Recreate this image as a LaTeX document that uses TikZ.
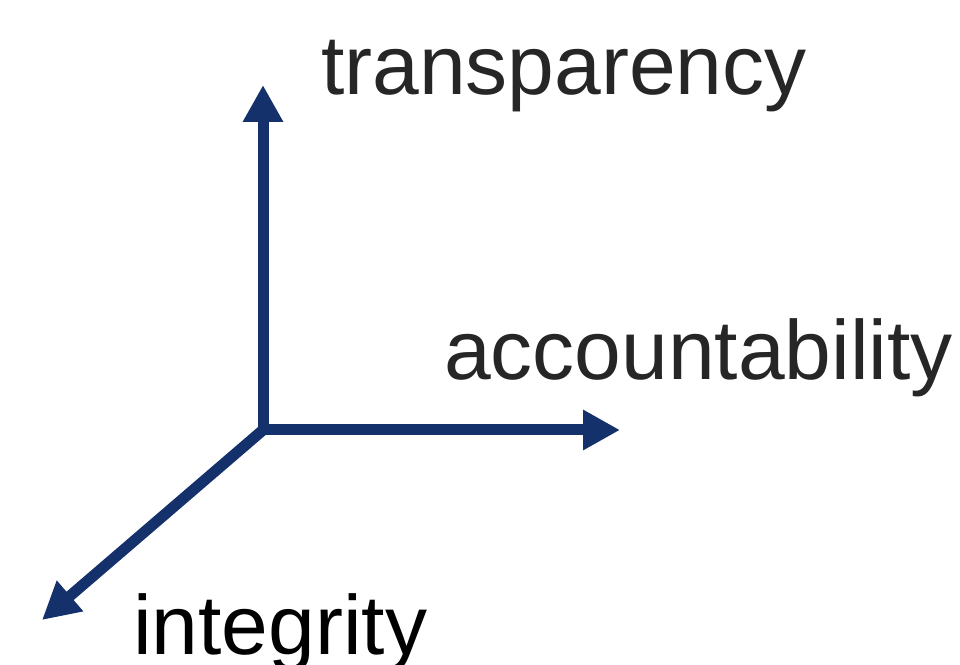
\documentclass[tikz,border=0pt]{standalone}
\usepackage{fontspec}
\setmainfont{Liberation Sans}
\usepackage{tikz}
\usetikzlibrary{arrows.meta, positioning}
\definecolor{axiscol}{RGB}{20,49,107}
\definecolor{textcol}{RGB}{38,38,38}
\tikzset{>=stealth}

\begin{document}
\begin{tikzpicture}[x=1pt, y=1pt,
    axis/.style={line width=11pt, draw=axiscol, -{Triangle[length=37pt, width=38pt]}},
    lbl/.style={font=\fontsize{84}{96}\selectfont, text=textcol, inner sep=0pt, outer sep=0pt, anchor=base west}]
            \useasboundingbox (0,0) rectangle (960,664);
            \coordinate (o) at (263,234);
            \coordinate (up) at (263,579);
            \coordinate (right) at (620,234);
            \coordinate (down) at (42,44);
            \draw[axis] (o) -- (up);
            \draw[axis] (o) -- (right);
            \draw[axis] (o) -- (down);
            \node[lbl] (transp) at (321,569) {transparency};
            \node[lbl] (account) at (444,284) {accountability};
            \node[lbl, text=black] (integ) at (133,10) {integrity};
            \end{tikzpicture}
\end{document}
